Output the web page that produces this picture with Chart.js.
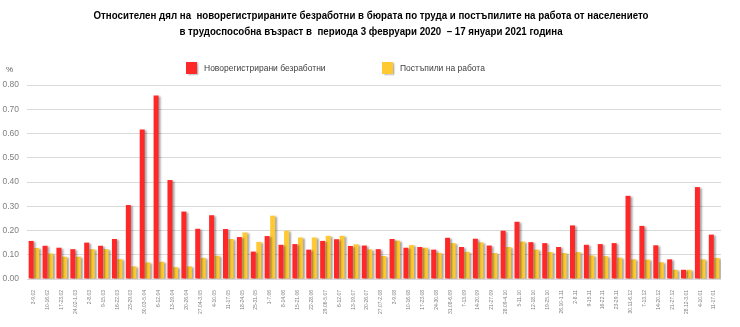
<!DOCTYPE html>
<html>
<head>
<meta charset="utf-8">
<script src="https://cdn.jsdelivr.net/npm/chart.js@4/dist/chart.umd.min.js"></script>
<style>
html,body{margin:0;padding:0;background:#fff;}
#wrap{width:740px;height:327px;position:relative;}
</style>
</head>
<body>
<div id="wrap"><canvas id="c" width="740" height="327"></canvas></div>
<script>
const categories = ["3-9.02","10-16.02","17-23.02","24.02-1.03","2-8.03","9-15.03","16-22.03","23-29.03","30.03-5.04","6-12.04","13-19.04","20-26.04","27.04-3.05","4-10.05","11-17.05","18-24.05","25-31.05","1-7.06","8-14.06","15-21.06","22-28.06","29.06-5.07","6-12.07","13-19.07","20-26.07","27.07-2.08","3-9.08","10-16.08","17-23.08","24-30.08","31.08-6.09","7-13.09","14-20.09","21-27.09","28.09-4.10","5-11.10","12-18.10","19-25.10","26.10-1.11","2-8.11","9-15.11","16-22.11","23-29.11","30.11-6.12","7-13.12","14-20.12","21-27.12","28.12-3.01","4-10.01","11-17.01"];
const newlyRegistered = [0.157,0.137,0.129,0.123,0.150,0.137,0.165,0.305,0.617,0.757,0.408,0.278,0.207,0.263,0.206,0.173,0.113,0.177,0.141,0.144,0.121,0.157,0.164,0.136,0.138,0.123,0.165,0.129,0.132,0.121,0.170,0.132,0.166,0.138,0.199,0.236,0.152,0.148,0.132,0.221,0.141,0.144,0.148,0.343,0.219,0.139,0.081,0.038,0.379,0.183];
const startedWork = [0.128,0.105,0.092,0.092,0.123,0.123,0.082,0.052,0.068,0.071,0.049,0.052,0.087,0.096,0.165,0.192,0.153,0.261,0.199,0.171,0.171,0.178,0.178,0.143,0.122,0.095,0.158,0.140,0.129,0.108,0.148,0.112,0.151,0.107,0.132,0.154,0.121,0.111,0.107,0.111,0.097,0.094,0.088,0.081,0.080,0.069,0.038,0.038,0.081,0.087];
const seriesNames = ["Новорегистрирани безработни","Постъпили на работа"];
const titleLines = ["Относителен дял на  новорегистрираните безработни в бюрата по труда и постъпилите на работа от населението","в трудоспособна възраст в  периода 3 февруари 2020  – 17 януари 2021 година"];
const yTicks = [0,0.1,0.2,0.3,0.4,0.5,0.6,0.7,0.8];
const unitLabel = "%";

const RED = '#fe2828';
const YELLOW = '#ffc933';
const FONT = "'Liberation Sans', Arial, sans-serif";

const shadowPlugin = {
  id: 'barShadow',
  beforeDatasetsDraw(chart) {
    const ctx = chart.ctx;
    ctx.save();
    ctx.shadowColor = 'rgba(0,0,0,0.35)';
    ctx.shadowOffsetX = 2;
    ctx.shadowOffsetY = 1;
    ctx.shadowBlur = 2;
  },
  afterDatasetsDraw(chart) { chart.ctx.restore(); }
};

const extrasPlugin = {
  id: 'extras',
  afterDraw(chart) {
    const ctx = chart.ctx;
    ctx.save();
    // title (horizontally condensed to mimic the narrow original face)
    ctx.fillStyle = '#000';
    ctx.font = "bold 11.5px " + FONT;
    ctx.textAlign = 'center';
    ctx.textBaseline = 'middle';
    const sx = 0.845;
    titleLines.forEach((t, i) => {
      ctx.save();
      ctx.translate(371, 16 + i * 16);
      ctx.scale(sx, 1);
      ctx.fillText(t, 0, 0);
      ctx.restore();
    });
    // unit label
    ctx.font = "8px " + FONT;
    ctx.fillStyle = '#595959';
    ctx.textBaseline = 'middle';
    ctx.textAlign = 'left';
    ctx.fillText(unitLabel, 6, 70);
    // legend
    const items = [{x:186, color:RED, text:seriesNames[0]},{x:382, color:YELLOW, text:seriesNames[1]}];
    ctx.font = "8.5px " + FONT;
    items.forEach(it => {
      ctx.save();
      ctx.shadowColor = 'rgba(0,0,0,0.3)';
      ctx.shadowOffsetX = 1.5; ctx.shadowOffsetY = 1; ctx.shadowBlur = 1.5;
      ctx.fillStyle = it.color;
      ctx.fillRect(it.x, 62, 11, 12);
      ctx.restore();
      ctx.fillStyle = '#404040';
      ctx.fillText(it.text, it.x + 18, 68.5);
    });
    ctx.restore();
  }
};

new Chart(document.getElementById('c'), {
  type: 'bar',
  data: {
    labels: categories,
    datasets: [
      {label: seriesNames[0], data: newlyRegistered, backgroundColor: RED, categoryPercentage: 0.8, barPercentage: 0.9},
      {label: seriesNames[1], data: startedWork, backgroundColor: YELLOW, categoryPercentage: 0.8, barPercentage: 0.9}
    ]
  },
  options: {
    responsive: false,
    animation: false,
    devicePixelRatio: 1,
    layout: {padding: {left: 0, right: 19, top: 85, bottom: 0}},
    plugins: {
      legend: {display: false},
      tooltip: {enabled: false},
      title: {display: false}
    },
    scales: {
      x: {
        grid: {display: false},
        border: {display: false},
        ticks: {
          autoSkip: false, maxRotation: 90, minRotation: 90,
          font: {family: FONT, size: 5}, color: '#808080', padding: 3
        },
        afterFit(s) { s.height = 48; }
      },
      y: {
        min: 0, max: 0.8,
        afterBuildTicks(s) { s.ticks = yTicks.map(v => ({value: v})); },
        grid: {color: '#d9d9d9', drawTicks: false, lineWidth: 1},
        border: {display: false},
        ticks: {
          callback: v => Number(v).toFixed(2),
          font: {family: FONT, size: 8.5}, color: '#808080', padding: 8
        },
        afterFit(s) { s.width = 27; }
      }
    }
  },
  plugins: [shadowPlugin, extrasPlugin]
});
</script>
</body>
</html>
